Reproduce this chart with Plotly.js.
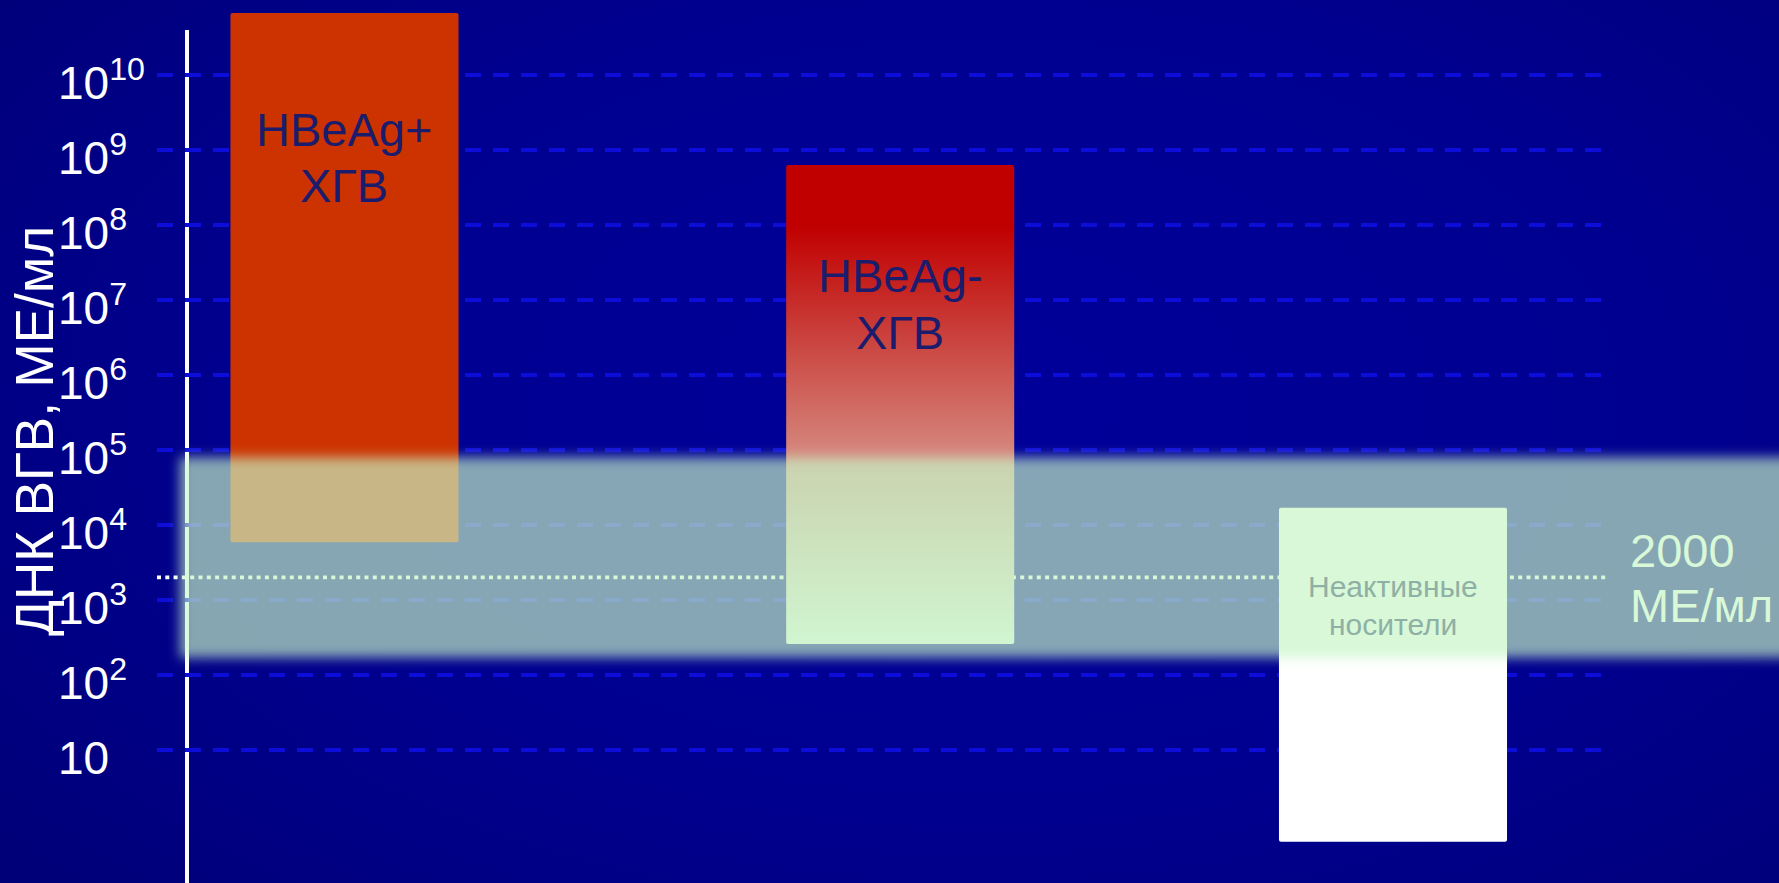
<!DOCTYPE html>
<html lang="ru">
<head>
<meta charset="utf-8">
<title>ДНК ВГВ при хроническом гепатите B</title>
<script src="https://cdn.plot.ly/plotly-3.0.1.min.js"></script>
<style>
  html, body { margin: 0; padding: 0; }
  body {
    width: 1779px; height: 883px; overflow: hidden;
    background: radial-gradient(ellipse 75% 85% at 55% 45%, #00009a 0%, #00008f 55%, #000076 100%);
  }
  #chart { width: 1779px; height: 883px; }
</style>
</head>
<body>
<div id="chart"></div>
<script>
// ---- data ----
const categories = ['HBeAg+ ХГВ', 'HBeAg- ХГВ', 'Неактивные носители'];
const viralLoadLow  = [5900, 260, 0.6];          // МЕ/мл, lower edge of each range
const viralLoadHigh = [6.7e10, 6.3e8, 17000];    // МЕ/мл, upper edge of each range
const thresholdValue = 2000;                      // МЕ/мл
const thresholdUnit = 'МЕ/мл';
const zoneLow = 170;                              // highlighted band, МЕ/мл
const zoneHigh = 80000;
const tickValues = [10, 1e2, 1e3, 1e4, 1e5, 1e6, 1e7, 1e8, 1e9, 1e10];
const tickLabels = ['10', '10<sup>2</sup>', '10<sup>3</sup>', '10<sup>4</sup>', '10<sup>5</sup>',
                    '10<sup>6</sup>', '10<sup>7</sup>', '10<sup>8</sup>', '10<sup>9</sup>', '10<sup>10</sup>'];
const yTitle = 'ДНК ВГВ, МЕ/мл';

// ---- layout constants ----
const W = 1779, H = 883;
const FONT = "'Liberation Sans', Arial, sans-serif";
const Y_RANGE = [-0.7733, 11];                    // log10 units
const SLOT_X = [0, 1.06, 2];                      // horizontal slot of each bar
const X_RANGE = [-0.6571, 2.7363];
const BAR_WIDTH = 0.435;
const BAR_COLORS = ['#cc3300', '#c00000', '#ffffff'];
const GRAD_STOPS = [[0, '#c00000'], [0.13, '#c00000'], [1, '#e6f8e6']];
const GRID_COLOR = '#0d0dd9';
const TEXT_DARK = '#1c1c6c';
const px = v => v / W;            // horizontal pixel -> paper
const py = v => 1 - v / H;        // vertical pixel -> paper

// label placement: first-line centre (px from top) and line step (px)
const LABEL_TOP = [129.5, 275, 586.5];
const LABEL_STEP = [56, 57, 38];
const LABEL_SIZE = [47, 47, 30];
const LABEL_COLOR = [TEXT_DARK, TEXT_DARK, '#8fb0a4'];

const traces = [
  // carries the log grid and tick labels
  { type: 'scatter', x: [], y: [], xaxis: 'x', yaxis: 'y', showlegend: false, hoverinfo: 'skip' },
  {
    type: 'bar',
    x: SLOT_X,
    y: viralLoadHigh.map((h, i) => h - viralLoadLow[i]),
    base: viralLoadLow,
    width: BAR_WIDTH,
    xaxis: 'x2', yaxis: 'y2',
    marker: { color: BAR_COLORS, line: { width: 0 }, cornerradius: 2 },
    hoverinfo: 'skip', showlegend: false
  }
];

const annotations = [];
categories.forEach((label, i) => {
  label.split(' ').forEach((line, k) => {
    annotations.push({
      xref: 'x2', x: SLOT_X[i], yref: 'paper', y: py(LABEL_TOP[i] + k * LABEL_STEP[i]),
      xanchor: 'center', yanchor: 'middle', showarrow: false, text: line,
      font: { family: FONT, size: LABEL_SIZE[i], color: LABEL_COLOR[i] }
    });
  });
});
[String(thresholdValue), thresholdUnit].forEach((line, k) => {
  annotations.push({
    xref: 'paper', x: px(1628), yref: 'paper', y: py(550 + k * 55.5),
    xanchor: 'left', yanchor: 'middle', showarrow: false, text: line,
    font: { family: FONT, size: 47, color: '#d8f8d8' }
  });
});
annotations.push({
  xref: 'paper', x: px(35), yref: 'paper', y: py(431),
  xanchor: 'center', yanchor: 'middle', showarrow: false, textangle: -90, text: yTitle,
  font: { family: FONT, size: 53, color: '#ffffff' }
});

const layout = {
  width: W, height: H,
  margin: { l: 0, r: 0, t: 0, b: 0, pad: 0 },
  paper_bgcolor: 'rgba(0,0,0,0)', plot_bgcolor: 'rgba(0,0,0,0)',
  showlegend: false,
  font: { family: FONT, color: '#ffffff' },
  xaxis: { domain: [px(157), px(1601)], range: [0, 1], visible: false, anchor: 'y', fixedrange: true },
  yaxis: {
    type: 'log', range: Y_RANGE, domain: [0, 1], anchor: 'free', position: px(54), side: 'left',
    tickmode: 'array', tickvals: tickValues, ticktext: tickLabels,
    ticklabelposition: 'inside', ticklabeloverflow: 'allow', ticks: '', ticklabelshift: 8,
    tickfont: { family: FONT, size: 46, color: '#ffffff' },
    showgrid: true, gridcolor: GRID_COLOR, gridwidth: 4, griddash: '16px,12px',
    showline: false, zeroline: false, fixedrange: true
  },
  xaxis2: { domain: [0, 1], range: X_RANGE, visible: false, anchor: 'y2', fixedrange: true },
  yaxis2: { type: 'log', range: Y_RANGE, domain: [0, 1], visible: false, anchor: 'x2', fixedrange: true },
  shapes: [
    // vertical value axis
    { type: 'line', layer: 'below', xref: 'paper', yref: 'paper',
      x0: px(187), x1: px(187), y0: 0, y1: py(30), line: { color: '#ffffff', width: 4 } },
    // 2000 МЕ/мл threshold
    { type: 'line', layer: 'below', xref: 'paper', yref: 'y2',
      x0: px(157), x1: px(1609), y0: thresholdValue, y1: thresholdValue,
      line: { color: '#ffffff', width: 3.6, dash: '4px,4.3px' } },
    // translucent highlight zone
    { type: 'rect', layer: 'above', xref: 'paper', yref: 'y2',
      x0: px(180), x1: 1.03, y0: zoneLow, y1: zoneHigh,
      fillcolor: 'rgba(198,244,198,0.68)', line: { width: 0 } }
  ],
  annotations: annotations
};

const gd = document.getElementById('chart');
Plotly.newPlot(gd, traces, layout, { staticPlot: true, displayModeBar: false }).then(() => {
  const NS = 'http://www.w3.org/2000/svg';
  const defs = gd.querySelector('svg.main-svg defs');

  // vertical fade for the HBeAg- bar
  const grad = document.createElementNS(NS, 'linearGradient');
  grad.setAttribute('id', 'hbeagNegFill');
  grad.setAttribute('x1', '0'); grad.setAttribute('y1', '0');
  grad.setAttribute('x2', '0'); grad.setAttribute('y2', '1');
  GRAD_STOPS.forEach(([off, col]) => {
    const s = document.createElementNS(NS, 'stop');
    s.setAttribute('offset', off);
    s.setAttribute('stop-color', col);
    grad.appendChild(s);
  });
  defs.appendChild(grad);

  // soft edges for the highlight zone
  const filt = document.createElementNS(NS, 'filter');
  filt.setAttribute('id', 'zoneSoft');
  filt.setAttribute('x', '-0.05'); filt.setAttribute('y', '-0.3');
  filt.setAttribute('width', '1.1'); filt.setAttribute('height', '1.6');
  const blur = document.createElementNS(NS, 'feGaussianBlur');
  blur.setAttribute('stdDeviation', '6');
  filt.appendChild(blur);
  defs.appendChild(filt);

  const barPaths = gd.querySelectorAll('g.trace.bars g.point path');
  if (barPaths[1]) barPaths[1].style.fill = 'url(#hbeagNegFill)';
  const zone = gd.querySelector('.layer-above .shapelayer path');
  if (zone) zone.setAttribute('filter', 'url(#zoneSoft)');
});
</script>
</body>
</html>
